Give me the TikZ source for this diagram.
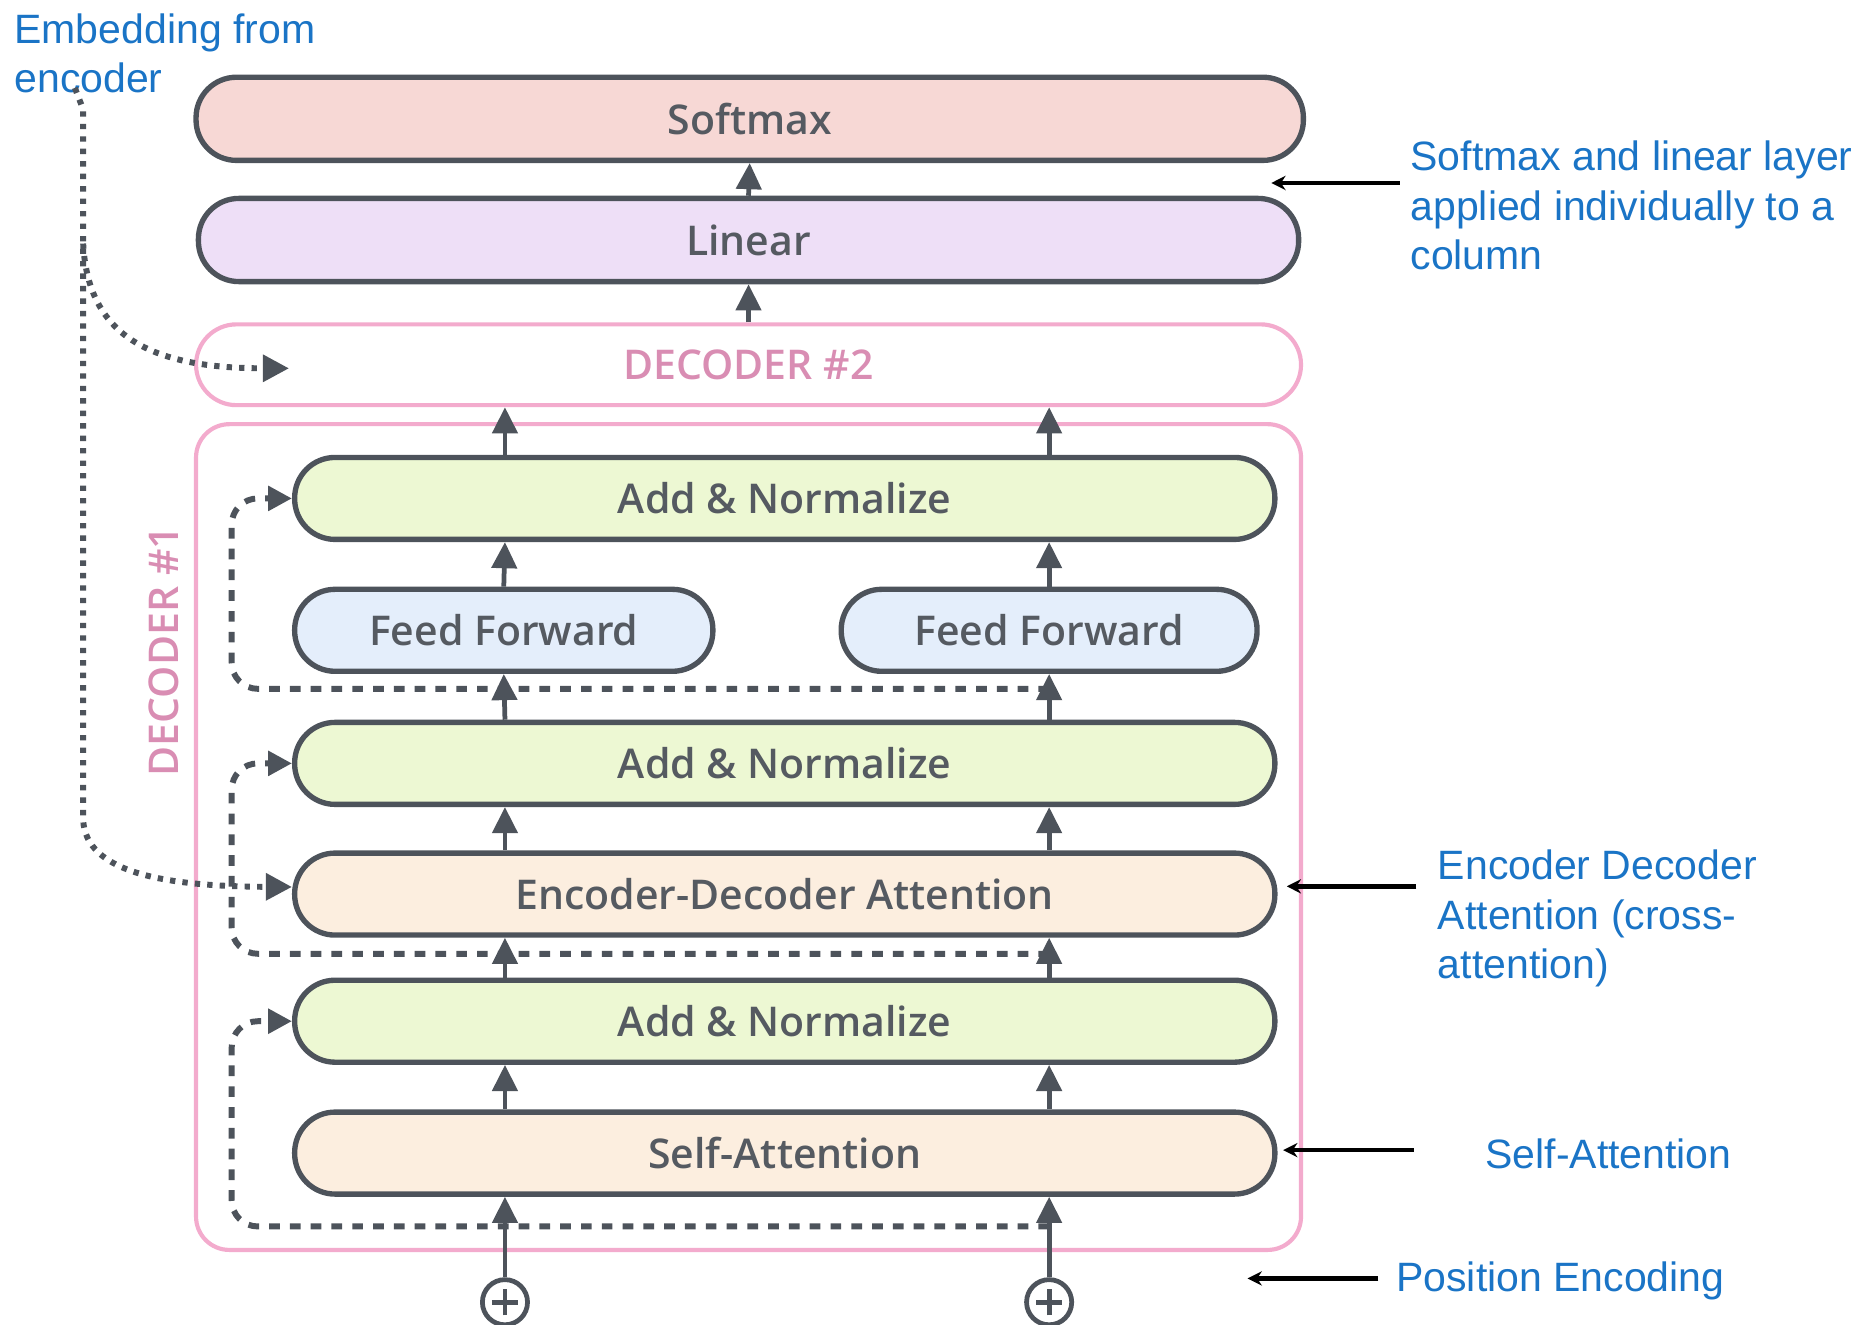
\documentclass[tikz,border=0pt]{standalone}
\usepackage{fontspec}
\setmainfont{Open Sans}
\IfFontExistsTF{Open Sans Semibold}
  {\newfontfamily\boxfamily{Open Sans Semibold}}
  {\IfFontExistsTF{Open Sans SemiBold}
    {\newfontfamily\boxfamily{Open Sans SemiBold}}
    {\newfontfamily\boxfamily{Open Sans}[FakeBold=1.2]}}
\newfontfamily\notefont{Liberation Sans}
\usetikzlibrary{arrows.meta,calc}

\definecolor{ink}{HTML}{4D535B}
\definecolor{labelgray}{HTML}{555A61}
\definecolor{softfill}{HTML}{F7D8D5}
\definecolor{linfill}{HTML}{EEDFF7}
\definecolor{normfill}{HTML}{EDF8D3}
\definecolor{fffill}{HTML}{E4EEFB}
\definecolor{attfill}{HTML}{FCEEDF}
\definecolor{framepink}{HTML}{F3ABCD}
\definecolor{pinktext}{HTML}{D98DB3}
\definecolor{noteblue}{HTML}{1A74C6}

\begin{document}
\begin{tikzpicture}[x=1pt,y=-1pt,
  boxfont/.style={font=\boxfamily\fontsize{34.5}{40}\selectfont},
  layer/.style={boxfont, draw=ink, line width=4.5pt, rounded corners=34pt,
    inner sep=0pt, text=labelgray, minimum height=69pt},
  wide/.style={layer, minimum width=825pt},
  frame/.style={boxfont, draw=framepink, line width=3.5pt, inner sep=0pt, text=pinktext},
  flow/.style={draw=ink, line width=4pt, -{Triangle[length=22pt,width=21pt]}},
  resid/.style={draw=ink, line width=5pt, dash pattern=on 9pt off 8.5pt,
    rounded corners=22pt, -{Triangle[length=20pt,width=20pt]}},
  embline/.style={draw=ink, line width=5pt, dash pattern=on 4.5pt off 6pt,
    -{Triangle[length=22pt,width=22pt]}},
  notetext/.style={font=\notefont\fontsize{34.5}{41.5}\selectfont, text=noteblue,
    align=left, inner sep=0pt},
  note/.style={draw=black, line width=3.8pt, -{Stealth[length=12pt,width=12pt]}},
  posenc/.style={circle, draw=ink, line width=4pt, minimum size=38pt, inner sep=0pt,
    path picture={\draw[ink, line width=4pt]
      ($(path picture bounding box.center)+(-11pt,0)$) -- ($(path picture bounding box.center)+(11pt,0)$)
      ($(path picture bounding box.center)+(0,-11pt)$) -- ($(path picture bounding box.center)+(0,11pt)$);}},
]
\useasboundingbox (0,0) rectangle (1568,1115);

% column positions of the two token streams
\coordinate (cL) at (425,0);
\coordinate (cR) at (883,0);
\coordinate (gut) at (195,0);

% output head
\node[layer, fill=softfill, minimum width=932pt, minimum height=70pt] (soft) at (631,100) {Softmax};
\node[layer, fill=linfill, minimum width=926pt, minimum height=70pt] (lin) at (630,202) {Linear};
\node[frame, rounded corners=34pt, minimum width=930pt, minimum height=68pt] (dec2) at (630,307) {DECODER \#2};

% decoder block #1
\node[frame, rounded corners=28pt, minimum width=930pt, minimum height=695pt] (dec1) at (630,704.5) {};
\node[boxfont, text=pinktext, rotate=90, inner sep=0pt] (dec1lbl) at (138,548) {DECODER \#1};

\node[wide, fill=normfill] (an1) at (660.5,419.5) {Add \& Normalize};
\node[layer, fill=fffill, minimum width=352pt] (ffl) at (424,530.5) {Feed Forward};
\node[layer, fill=fffill, minimum width=350pt] (ffr) at (883,530.5) {Feed Forward};
\node[wide, fill=normfill] (an2) at (660.5,642.5) {Add \& Normalize};
\node[wide, fill=attfill] (eda) at (660.5,752.5) {Encoder-Decoder Attention};
\node[wide, fill=normfill] (an3) at (660.5,859.5) {Add \& Normalize};
\node[wide, fill=attfill] (sa) at (660.5,970.5) {Self-Attention};

\node[posenc] (peL) at (425,1096) {};
\node[posenc] (peR) at (883,1096) {};

% residual (skip) connections
\coordinate (sk1) at ($(sa.south -| cR)+(0,25)$);
\coordinate (sk2) at ($(an3.north -| cR)+(0,-20)$);
\coordinate (sk3) at ($(an2.north -| cR)+(0,-26)$);
\draw[resid] (sk1) -- (sk1 -| gut) -- (gut |- an3.west) -- (an3.west);
\draw[resid] (sk2) -- (sk2 -| gut) -- (gut |- an2.west) -- (an2.west);
\draw[resid] (sk3) -- (sk3 -| gut) -- (gut |- an1.west) -- (an1.west);

% data flow up both columns
\draw[flow] (lin.north) -- (soft.south);
\draw[flow] (dec2.north -| lin.north) -- (lin.south);
\foreach \c/\ff/\pe in {cL/ffl/peL, cR/ffr/peR} {
  \draw[flow] (\pe.north) -- (sa.south -| \c);
  \draw[flow] (sa.north -| \c) -- (an3.south -| \c);
  \draw[flow] (an3.north -| \c) -- (eda.south -| \c);
  \draw[flow] (eda.north -| \c) -- (an2.south -| \c);
  \draw[flow] (an2.north -| \c) -- (\ff.south);
  \draw[flow] (\ff.north) -- (an1.south -| \c);
  \draw[flow] (an1.north -| \c) -- (dec2.south -| \c);
}

% encoder output fed into the cross-attention of both decoders
\node[notetext, anchor=west] (nemb) at (12,45) {Embedding from\\encoder};
\coordinate (emb0) at (63,74);
\coordinate (d2in) at ($(dec2.west)+(80,3)$);
\coordinate (edin) at ($(eda.west)+(0,-6)$);
\draw[embline] (emb0) -- (70,92) -- (70,690) .. controls (72,735) and (140,746) .. (edin);
\draw[embline] (70,205) .. controls (74,282) and (125,310) .. (d2in);

% annotations
\node[notetext, anchor=west] (nsoft) at (1187,173) {Softmax and linear layer\\applied individually to a\\column};
\node[notetext, anchor=west] (nencdec) at (1210,773) {Encoder Decoder\\Attention (cross-\\attention)};
\node[notetext, anchor=west] (nself) at (1250,971) {Self-Attention};
\node[notetext, anchor=west] (npos) at (1175,1078) {Position Encoding};

\coordinate (n1a) at (1178,154);  \coordinate (n1b) at (1070,154);
\coordinate (n2a) at (1192,746);  \coordinate (n2b) at (1083,746);
\coordinate (n3a) at (1190,968);  \coordinate (n3b) at (1080,968);
\coordinate (n4a) at (1160,1076); \coordinate (n4b) at (1050,1076);
\draw[note] (n1a) -- (n1b);
\draw[note] (n2a) -- (n2b);
\draw[note] (n3a) -- (n3b);
\draw[note] (n4a) -- (n4b);
\end{tikzpicture}
\end{document}
